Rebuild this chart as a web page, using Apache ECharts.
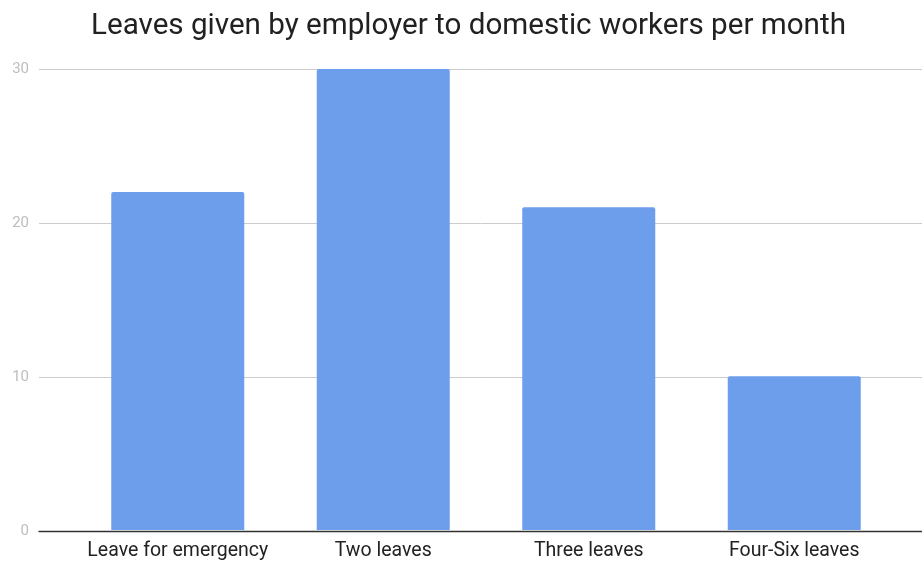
<!DOCTYPE html>
<html>
<head>
<meta charset="utf-8">
<script src="https://cdn.jsdelivr.net/npm/echarts@6/dist/echarts.min.js"></script>
<style>html,body{margin:0;padding:0;background:#fff}#c{width:922px;height:561px}</style>
</head>
<body>
<div id="c"></div>
<script>
const titleText = "Leaves given by employer to domestic workers per month";
const categories = ["Leave for emergency", "Two leaves", "Three leaves", "Four-Six leaves"];
const values = [22, 30, 21, 10];
const yTicks = [0, 10, 20, 30];

const chart = echarts.init(document.getElementById('c'), null, {renderer: 'canvas'});
chart.setOption({
  animation: false,
  backgroundColor: '#fff',
  title: {
    text: titleText, left: 86, top: 7,
    textStyle: {fontFamily: 'Roboto', fontSize: 29.6, fontWeight: 'normal', color: '#212121'}
  },
  grid: [
    {left: 39, right: 0, top: 69, bottom: 30},
    {left: 75, right: 25, top: 69, bottom: 30}
  ],
  xAxis: [
    {gridIndex: 0, type: 'value', min: 0, max: 1, show: true,
     axisLine: {show: true, onZero: false, lineStyle: {color: '#333', width: 1.3}},
     axisTick: {show: false}, axisLabel: {show: false}, splitLine: {show: false}},
    {gridIndex: 1, type: 'category', data: categories,
     axisLine: {show: false}, axisTick: {show: false},
     axisLabel: {interval: 0, fontFamily: 'Roboto', fontSize: 19.5, color: '#222', margin: 11}}
  ],
  yAxis: [
    {gridIndex: 0, type: 'value', min: 0, max: 30, interval: 10,
     axisLine: {show: false}, axisTick: {show: false},
     axisLabel: {fontFamily: 'Roboto', fontSize: 15, color: '#bdbdbd', margin: 10,
       formatter: v => yTicks.includes(v) ? String(v) : ''},
     splitLine: {lineStyle: {color: '#cccccc', width: 1}}},
    {gridIndex: 1, type: 'value', min: 0, max: 30, interval: 10, show: false,
     splitLine: {show: false}}
  ],
  series: [{
    type: 'bar', xAxisIndex: 1, yAxisIndex: 1, data: values,
    barWidth: 133,
    itemStyle: {color: '#6d9eeb', borderRadius: [2, 2, 0, 0]}
  }]
});
</script>
</body>
</html>
